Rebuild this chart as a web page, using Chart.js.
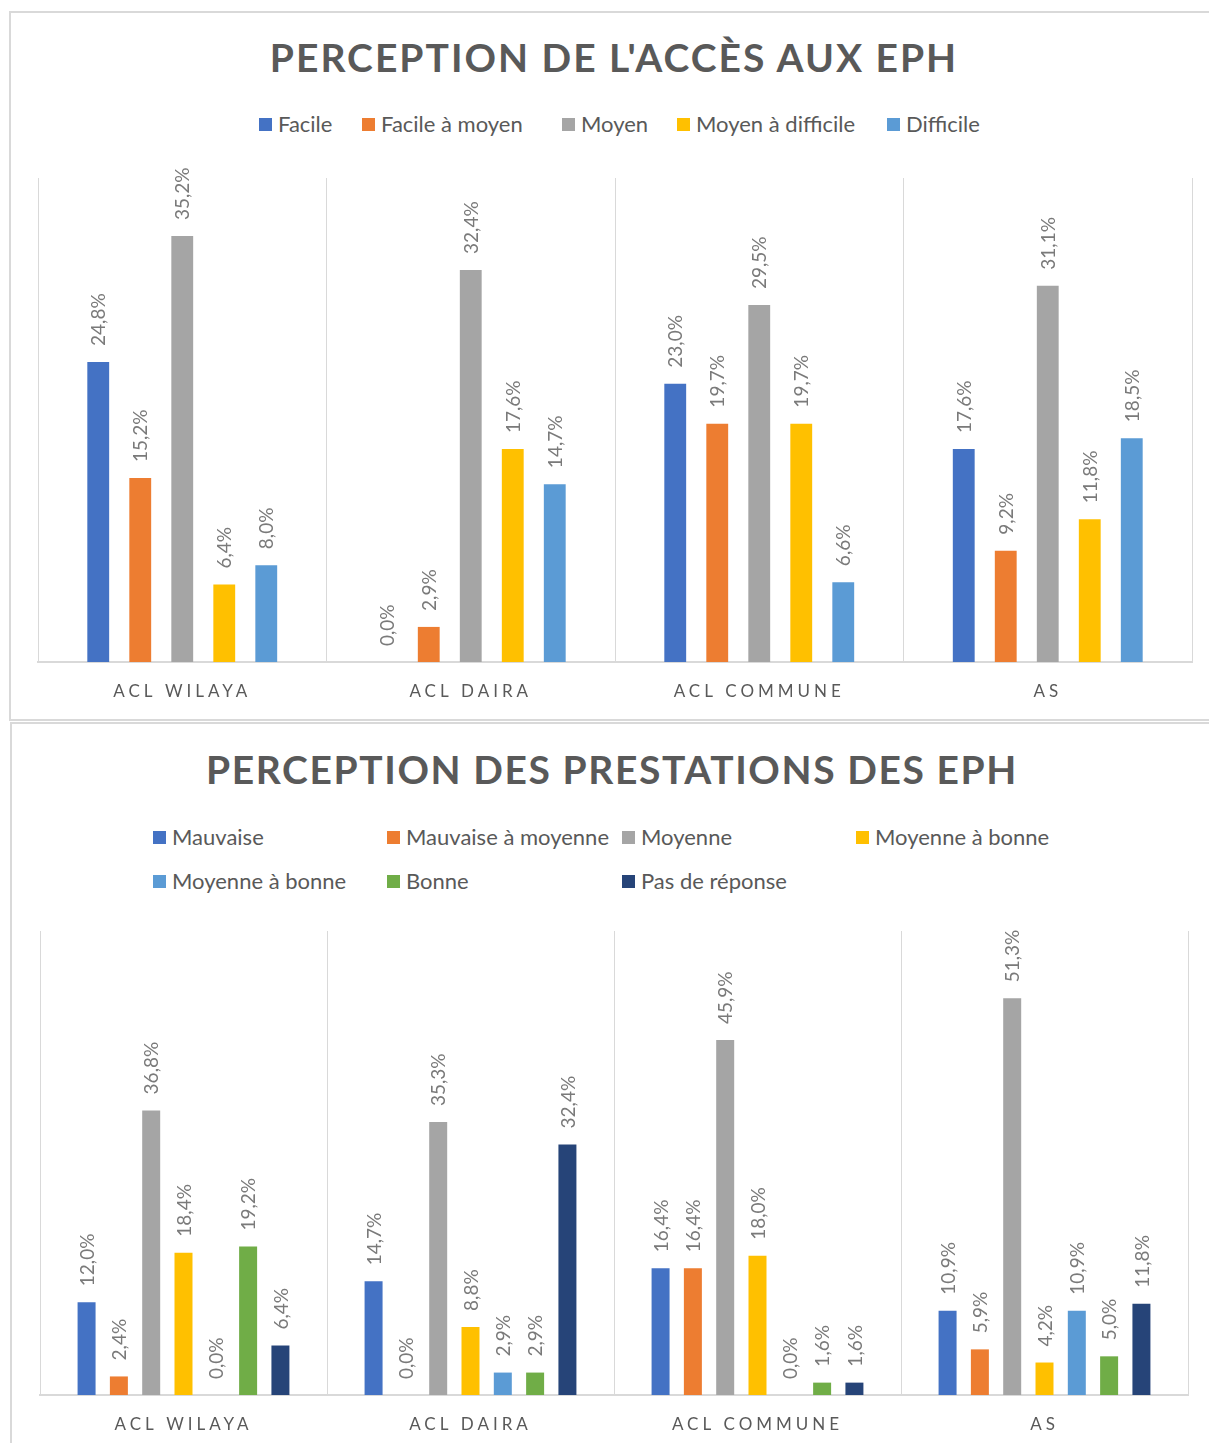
<!DOCTYPE html>
<html lang="fr">
<head>
<meta charset="utf-8">
<title>Perception des EPH</title>
<script src="https://cdn.jsdelivr.net/npm/chart.js@4.4.1/dist/chart.umd.min.js"></script>
<style>
  html, body { margin: 0; padding: 0; background: #fff; }
  body { width: 1209px; height: 1443px; position: relative; overflow: hidden; font-family: Lato, "Open Sans", sans-serif; }
  .frame { position: absolute; border: 2px solid #d9d9d9; box-sizing: border-box; }
  .title { position: absolute; font-weight: 700; font-size: 39px; line-height: 1; color: #595959; white-space: nowrap; transform: translateX(-50%); }
  .legend-item { position: absolute; display: flex; align-items: center; font-size: 22px; line-height: 1; color: #595959; white-space: nowrap; transform: translateY(-50%); }
  .legend-item i { display: inline-block; width: 13px; height: 13px; margin-right: 6px; }
  canvas { position: absolute; left: 0; }
</style>
</head>
<body>
<div class="frame" style="left:9px; top:11px; width:1220px; height:710px;"></div>
<div class="frame" style="left:10px; top:722px; width:1220px; height:740px;"></div>

<div class="title" style="left:614px; top:38px; letter-spacing:2px;">PERCEPTION DE L'ACCÈS AUX EPH</div>
<div id="legendAcces"></div>
<canvas id="chartAcces" width="1209" height="720" style="top:0;"></canvas>

<div class="title" style="left:612px; top:750px; letter-spacing:1.6px;">PERCEPTION DES PRESTATIONS DES EPH</div>
<div id="legendPrest"></div>
<canvas id="chartPrest" width="1209" height="721" style="top:722px;"></canvas>

<script>
const categories = ['ACL WILAYA', 'ACL DAIRA', 'ACL COMMUNE', 'AS'];

// Perception de l'accès aux EPH (%)
const accesLabels = ['Facile', 'Facile à moyen', 'Moyen', 'Moyen à difficile', 'Difficile'];
const accesFacile = [24.8, 0.0, 23.0, 17.6];
const accesFacileMoyen = [15.2, 2.9, 19.7, 9.2];
const accesMoyen = [35.2, 32.4, 29.5, 31.1];
const accesMoyenDifficile = [6.4, 17.6, 19.7, 11.8];
const accesDifficile = [8.0, 14.7, 6.6, 18.5];

// Perception des prestations des EPH (%)
const prestLabels = ['Mauvaise', 'Mauvaise à moyenne', 'Moyenne', 'Moyenne à bonne', 'Moyenne à bonne', 'Bonne', 'Pas de réponse'];
const prestMauvaise = [12.0, 14.7, 16.4, 10.9];
const prestMauvaiseMoyenne = [2.4, 0.0, 16.4, 5.9];
const prestMoyenne = [36.8, 35.3, 45.9, 51.3];
const prestMoyenneBonne = [18.4, 8.8, 18.0, 4.2];
const prestMoyenneBonneBis = [0.0, 2.9, 0.0, 10.9];
const prestBonne = [19.2, 2.9, 1.6, 5.0];
const prestSansReponse = [6.4, 32.4, 1.6, 11.8];

const palette = ['#4472C4', '#ED7D31', '#A5A5A5', '#FFC000', '#5B9BD5', '#70AD47', '#264478'];

const fmt = v => v.toFixed(1).replace('.', ',') + '%';

// legend entries placed like the office chart layout
function buildLegend(el, labels, spots) {
  labels.forEach((lab, i) => {
    const item = document.createElement('div');
    item.className = 'legend-item';
    item.style.left = spots[i][0] + 'px';
    item.style.top = spots[i][1] + 'px';
    item.innerHTML = '<i style="background:' + palette[i] + '"></i>' + lab;
    el.appendChild(item);
  });
}
buildLegend(document.getElementById('legendAcces'), accesLabels,
  [[259, 124], [362, 124], [562, 124], [677, 124], [887, 124]]);
buildLegend(document.getElementById('legendPrest'), prestLabels,
  [[153, 837], [387, 837], [622, 837], [856, 837], [153, 881], [387, 881], [622, 881]]);

// spaced capitals for the category axis only
const spacedTicks = {
  id: 'spacedTicks',
  beforeDraw(chart) { chart.ctx.letterSpacing = '4px'; },
  beforeDatasetsDraw(chart) { chart.ctx.letterSpacing = '0px'; }
};

// rotated value above every bar
const valueLabels = {
  id: 'valueLabels',
  afterDatasetsDraw(chart) {
    const ctx = chart.ctx;
    ctx.save();
    ctx.font = '19px Lato';
    ctx.fillStyle = '#7a7a7a';
    ctx.textAlign = 'left';
    ctx.textBaseline = 'middle';
    chart.data.datasets.forEach((ds, i) => {
      chart.getDatasetMeta(i).data.forEach((bar, j) => {
        ctx.save();
        ctx.translate(bar.x, bar.y - 16);
        ctx.rotate(-Math.PI / 2);
        ctx.fillText(fmt(ds.data[j]), 0, 1);
        ctx.restore();
      });
    });
    ctx.restore();
  }
};

function makeChart(id, labels, series, opts) {
  return new Chart(document.getElementById(id), {
    type: 'bar',
    data: {
      labels: categories,
      datasets: series.map((d, i) => ({
        label: labels[i],
        data: d,
        backgroundColor: palette[i],
        borderWidth: 0,
        categoryPercentage: opts.catPct,
        barPercentage: opts.barPct
      }))
    },
    options: {
      responsive: false,
      animation: false,
      devicePixelRatio: 1,
      layout: { padding: { top: opts.top, left: opts.left, right: opts.right, bottom: 0 } },
      plugins: {
        legend: { display: false },
        title: { display: false },
        tooltip: { enabled: false }
      },
      scales: {
        x: {
          grid: { offset: true, color: '#d9d9d9', lineWidth: 1, drawTicks: false },
          border: { color: '#d9d9d9', width: 2 },
          ticks: { color: '#595959', font: { family: 'Lato', size: 17 }, padding: 19 },
          afterFit(scale) { scale.height = opts.axisHeight; }
        },
        y: { display: false, min: 0, max: opts.max }
      }
    },
    plugins: [spacedTicks, valueLabels]
  });
}

makeChart('chartAcces', accesLabels,
  [accesFacile, accesFacileMoyen, accesMoyen, accesMoyenDifficile, accesDifficile],
  { max: 40, catPct: 0.728, barPct: 0.52, top: 178, left: 38, right: 17, axisHeight: 58 });

makeChart('chartPrest', prestLabels,
  [prestMauvaise, prestMauvaiseMoyenne, prestMoyenne, prestMoyenneBonne, prestMoyenneBonneBis, prestBonne, prestSansReponse],
  { max: 60, catPct: 0.788, barPct: 0.557, top: 209, left: 40, right: 21, axisHeight: 48 });
</script>
</body>
</html>
